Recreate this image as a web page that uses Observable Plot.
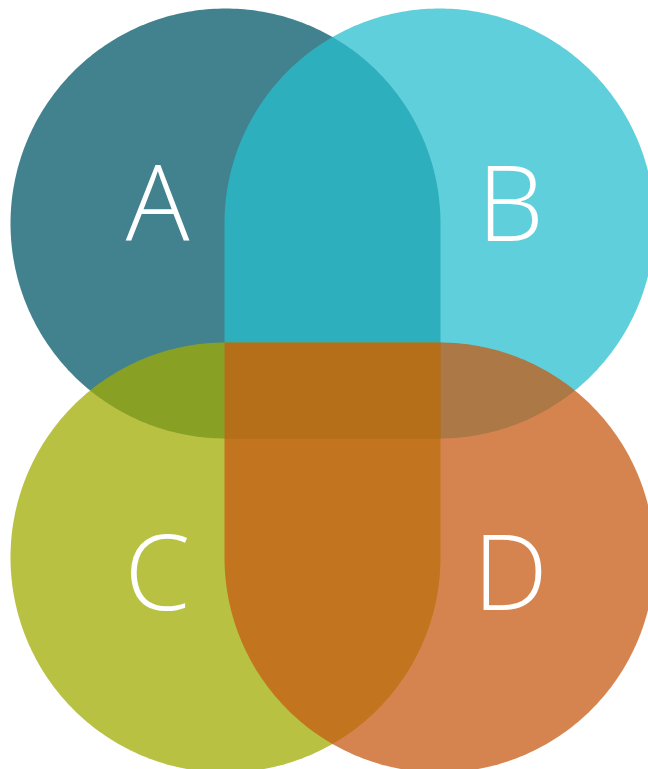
<!DOCTYPE html>
<html>
<head>
<meta charset="utf-8">
<script src="https://cdn.jsdelivr.net/npm/d3@7"></script>
<script src="https://cdn.jsdelivr.net/npm/@observablehq/plot@0.6"></script>
<style>
  html, body { margin: 0; padding: 0; background: #ffffff; overflow: hidden; }
  #chart svg { display: block; }
</style>
</head>
<body>
<div id="chart"></div>
<script>
// Sets of the four-set Venn diagram
const sets = ["A", "B", "C", "D"];
// Centre of each set's rounded shape (chart units, y grows downward)
const centerX = [225, 439, 225, 439];
const centerY = [223, 223, 557, 557];
const radius = [215, 215, 215, 215];
// Quadrant that is squared off (points toward the middle)
const squareCorner = ["bottom-right", "bottom-left", "top-right", "top-left"];
// Label positions
const labelX = [157, 510, 157, 510];
const labelY = [207, 207, 576, 576];
// Colours
const colors = ["#005768", "#27becf", "#a0ac00", "#c65911"];

const cornerStart = {"bottom-right": 0, "bottom-left": 90, "top-left": 180, "top-right": 270};

// Build outline: three quarter-circle arcs plus one square corner
const outline = [];
sets.forEach((s, i) => {
  const cx = centerX[i], cy = centerY[i], r = radius[i];
  const q0 = cornerStart[squareCorner[i]];
  for (let a = q0 + 90; a <= q0 + 360 + 1e-9; a += 1) {
    const t = a * Math.PI / 180;
    outline.push({set: s, x: cx + r * Math.cos(t), y: cy + r * Math.sin(t)});
  }
  const tc = (q0 + 45) * Math.PI / 180;
  outline.push({set: s, x: cx + r * Math.SQRT2 * Math.cos(tc), y: cy + r * Math.SQRT2 * Math.sin(tc)});
});

const labels = sets.map((s, i) => ({set: s, x: labelX[i], y: labelY[i]}));

const chart = Plot.plot({
  width: 648,
  height: 769,
  margin: 0,
  style: {background: "#ffffff"},
  x: {domain: [0, 648], axis: null},
  y: {domain: [769, 0], axis: null},
  color: {domain: sets, range: colors},
  marks: [
    Plot.line(outline, {
      x: "x", y: "y", z: "set", fill: "set",
      fillOpacity: 0.74, stroke: "none", curve: "linear-closed"
    }),
    Plot.text(labels, {
      x: "x", y: "y", text: "set",
      fill: "#ffffff", fontSize: 106, fontWeight: 350,
      fontFamily: "'Open Sans', 'Noto Sans', sans-serif",
      textAnchor: "middle", lineAnchor: "middle"
    })
  ]
});
document.getElementById("chart").appendChild(chart);
</script>
</body>
</html>
